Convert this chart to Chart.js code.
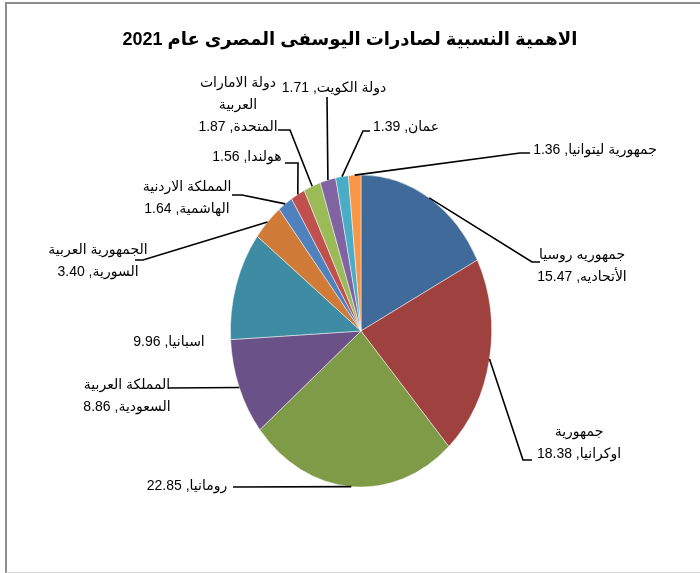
<!DOCTYPE html>
<html lang="ar">
<head>
<meta charset="utf-8">
<title>الاهمية النسبية لصادرات اليوسفى المصرى</title>
<script src="https://cdn.jsdelivr.net/npm/chart.js@4/dist/chart.umd.min.js"></script>
<style>
  html, body { margin: 0; padding: 0; background: #fff; overflow: hidden; }
  #frame {
    position: absolute; left: 5px; top: 2px; width: 720px; height: 568px;
    border-top: 2px solid #8c8c8c; border-left: 2px solid #8c8c8c;
    border-bottom: 1px solid #d9d9d9;
  }
  #chart { position: absolute; left: 0; top: 0; }
</style>
</head>
<body>
<div id="frame"></div>
<canvas id="chart" width="700" height="573"></canvas>
<script>
// Chart data
const chartTitle = "الاهمية النسبية لصادرات اليوسفى المصرى عام 2021";

const countries = [
  ["جمهوريه روسيا", "الأتحاديه"],
  ["جمهورية", "اوكرانيا"],
  ["رومانيا"],
  ["المملكة العربية", "السعودية"],
  ["اسبانيا"],
  ["الجمهورية العربية", "السورية"],
  ["المملكة الاردنية", "الهاشمية"],
  ["هولندا"],
  ["دولة الامارات", "العربية", "المتحدة"],
  ["دولة الكويت"],
  ["عمان"],
  ["جمهورية ليتوانيا"],
];

const shares = [15.47, 18.38, 22.85, 8.86, 9.96, 3.40, 1.64, 1.56, 1.87, 1.71, 1.39, 1.36];

const sliceColors = [
  "#3f6a9a", "#9f413e", "#7f9b48", "#6a5188", "#3d8ca3", "#d07b38",
  "#4f81bd", "#c0504d", "#9bbb59", "#8064a2", "#4bacc6", "#f79646",
];

// Label placement: elbow of leader line, end of the short stub, text centre x, first line y
const labelLayout = [
  { elbow: [532, 262], end: [540, 262], tx: 582, ty: 255 },
  { elbow: [523, 460], end: [532, 460], tx: 579, ty: 432 },
  { elbow: null, end: [233, 487], tx: 187, ty: 486 },
  { elbow: null, end: [168, 388], tx: 127, ty: 385 },
  { elbow: null, end: null, tx: 169, ty: 342 },
  { elbow: [143, 260], end: [135, 260], tx: 98, ty: 250 },
  { elbow: [242, 195], end: [232, 195], tx: 187, ty: 187 },
  { elbow: [298, 163], end: [285, 163], tx: 247, ty: 157 },
  { elbow: [290, 130], end: [278, 130], tx: 238, ty: 83 },
  { elbow: null, end: [327, 97], tx: 334, ty: 88 },
  { elbow: [363, 131], end: [370, 131], tx: 406, ty: 127 },
  { elbow: [520, 153], end: [530, 153], tx: 595, ty: 150 },
];

const Y_STRETCH = 1.195; // the original pie is a little taller than wide
const LINE_GAP = 22;
const labelFont = '14px "Liberation Sans", Arial, "DejaVu Sans", sans-serif';

// stretch the pie vertically around its centre
const ellipsePlugin = {
  id: "ellipse",
  beforeDatasetsDraw(chart) {
    const ctx = chart.ctx;
    const arc = chart.getDatasetMeta(0).data[0];
    ctx.save();
    ctx.translate(0, arc.y);
    ctx.scale(1, Y_STRETCH);
    ctx.translate(0, -arc.y);
  },
  afterDatasetsDraw(chart) {
    chart.ctx.restore();
  },
};

// title and data labels with leader lines
const labelsPlugin = {
  id: "arcLabels",
  afterDraw(chart) {
    const ctx = chart.ctx;
    ctx.save();
    ctx.direction = "rtl";
    ctx.textAlign = "center";
    ctx.textBaseline = "middle";
    ctx.fillStyle = "#000";

    ctx.font = 'bold 18px "Liberation Sans", Arial, "DejaVu Sans", sans-serif';
    ctx.fillText(chartTitle, 350, 40);

    ctx.font = labelFont;
    ctx.strokeStyle = "#000";
    ctx.lineWidth = 1.6;

    chart.getDatasetMeta(0).data.forEach((arc, i) => {
      const lay = labelLayout[i];
      const mid = (arc.startAngle + arc.endAngle) / 2;
      const ax = arc.x + arc.outerRadius * Math.cos(mid);
      const ay = arc.y + arc.outerRadius * Y_STRETCH * Math.sin(mid);

      if (lay.end) {
        ctx.beginPath();
        ctx.moveTo(ax, ay);
        if (lay.elbow) ctx.lineTo(lay.elbow[0], lay.elbow[1]);
        ctx.lineTo(lay.end[0], lay.end[1]);
        ctx.stroke();
      }

      const lines = countries[i].slice();
      lines[lines.length - 1] += ", " + shares[i].toFixed(2);
      lines.forEach((txt, j) => {
        ctx.fillText(txt, lay.tx, lay.ty + j * LINE_GAP);
      });
    });
    ctx.restore();
  },
};

new Chart(document.getElementById("chart"), {
  type: "pie",
  data: {
    labels: countries.map((c) => c.join(" ")),
    datasets: [
      {
        data: shares,
        backgroundColor: sliceColors,
        borderColor: "rgba(255,255,255,0.55)",
        borderWidth: 0.8,
      },
    ],
  },
  options: {
    responsive: false,
    animation: false,
    layout: { padding: { left: 230, right: 208, top: 200, bottom: 111 } },
    plugins: {
      legend: { display: false },
      tooltip: { enabled: false },
      title: { display: false },
    },
  },
  plugins: [ellipsePlugin, labelsPlugin],
});
</script>
</body>
</html>
